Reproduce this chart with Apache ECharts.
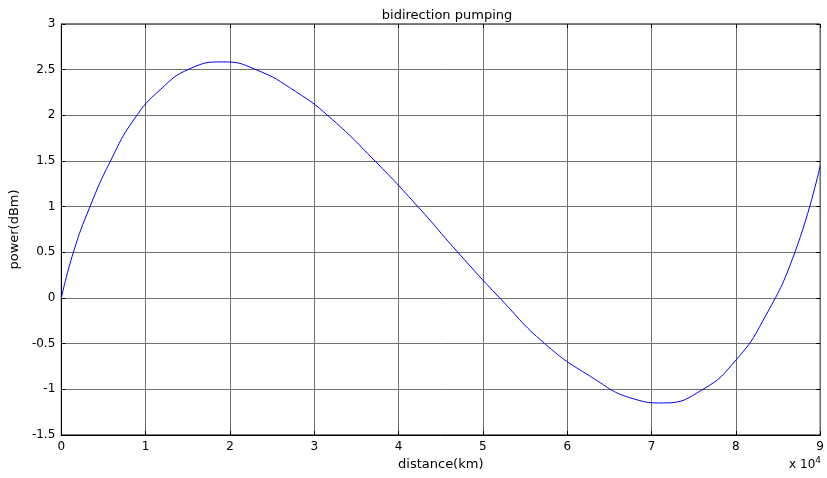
<!DOCTYPE html>
<html>
<head>
<meta charset="utf-8">
<script src="https://cdn.jsdelivr.net/npm/echarts@6/dist/echarts.min.js"></script>
<style>html,body{margin:0;padding:0;background:#fff}#c{width:827px;height:478px}</style>
</head>
<body>
<div id="c"></div>
<script>
// distance in units of 1e4 km (axis shows "x 10^4")
var distance = [0, 0.143, 0.34, 0.583, 0.858, 1.172, 1.525, 1.92, 2.31, 2.78, 3.17, 3.72, 4.234, 4.70, 5.20, 5.73, 6.275, 6.79, 7.14, 7.61, 8.0, 8.32, 8.70, 9.0];
var power    = [0, 0.5, 1.0, 1.5, 1.95, 2.28, 2.51, 2.585, 2.5, 2.26, 1.99, 1.5, 0.995, 0.503, 0.0, -0.497, -0.858, -1.105, -1.149, -1.0, -0.68, -0.25, 0.5, 1.447];
var xTicks = [0, 1, 2, 3, 4, 5, 6, 7, 8, 9];
var yTicks = [-1.5, -1, -0.5, 0, 0.5, 1, 1.5, 2, 2.5, 3];

var font = 'DejaVu Sans';
var chart = echarts.init(document.getElementById('c'), null, {renderer: 'canvas'});
var pts = distance.map(function (d, i) { return [d, power[i]]; });
var gridLine = {show: true, lineStyle: {color: '#707070', width: 1, type: 'solid'}};
chart.setOption({
  animation: false,
  backgroundColor: '#fff',
  title: {
    text: 'bidirection pumping', left: 442, top: 4, textAlign: 'center',
    textStyle: {fontFamily: font, fontSize: 13, fontWeight: 'normal', color: '#000'}
  },
  grid: {left: 60.5, right: 2.5, top: 24, bottom: 43, show: true, borderColor: '#000', borderWidth: 1, backgroundColor: '#fff'},
  xAxis: [{
    type: 'value', min: xTicks[0], max: xTicks[xTicks.length - 1], interval: 1,
    name: 'distance(km)', nameLocation: 'middle', nameGap: 22,
    nameTextStyle: {fontFamily: font, fontSize: 13, color: '#000'},
    axisLine: {show: true, onZero: false, lineStyle: {color: '#000', width: 1}},
    axisTick: {show: true, inside: true, length: 4, lineStyle: {color: '#000'}},
    axisLabel: {fontFamily: font, fontSize: 12, color: '#000', margin: 6},
    splitLine: gridLine
  }, {
    type: 'value', position: 'top', min: xTicks[0], max: xTicks[xTicks.length - 1], interval: 1,
    axisLine: {show: false, onZero: false}, axisLabel: {show: false}, splitLine: {show: false},
    axisTick: {show: true, inside: true, length: 4, lineStyle: {color: '#000'}}
  }],
  yAxis: [{
    type: 'value', min: yTicks[0], max: yTicks[yTicks.length - 1], interval: 0.5,
    name: 'power(dBm)', nameLocation: 'middle', nameGap: 38, nameRotate: 90,
    nameTextStyle: {fontFamily: font, fontSize: 13, color: '#000'},
    axisLine: {show: true, onZero: false, lineStyle: {color: '#000', width: 1}},
    axisTick: {show: true, inside: true, length: 4, lineStyle: {color: '#000'}},
    axisLabel: {fontFamily: font, fontSize: 12, color: '#000', margin: 6},
    splitLine: gridLine
  }, {
    type: 'value', position: 'right', min: yTicks[0], max: yTicks[yTicks.length - 1], interval: 0.5,
    axisLine: {show: false, onZero: false}, axisLabel: {show: false}, splitLine: {show: false},
    axisTick: {show: true, inside: true, length: 4, lineStyle: {color: '#000'}}
  }],
  graphic: [{
    type: 'text', right: 6, top: 456,
    style: {
      text: 'x 10{s|4}', fontFamily: font, fontSize: 12, fill: '#000',
      rich: {s: {fontFamily: font, fontSize: 9, verticalAlign: 'top', padding: [0, 0, 8, 0]}}
    }
  }],
  series: [{
    type: 'line', data: pts, smooth: 0.5, smoothConstraint: false, showSymbol: false,
    lineStyle: {color: '#0000ff', width: 1}, itemStyle: {color: '#0000ff'}
  }]
});
</script>
</body>
</html>
